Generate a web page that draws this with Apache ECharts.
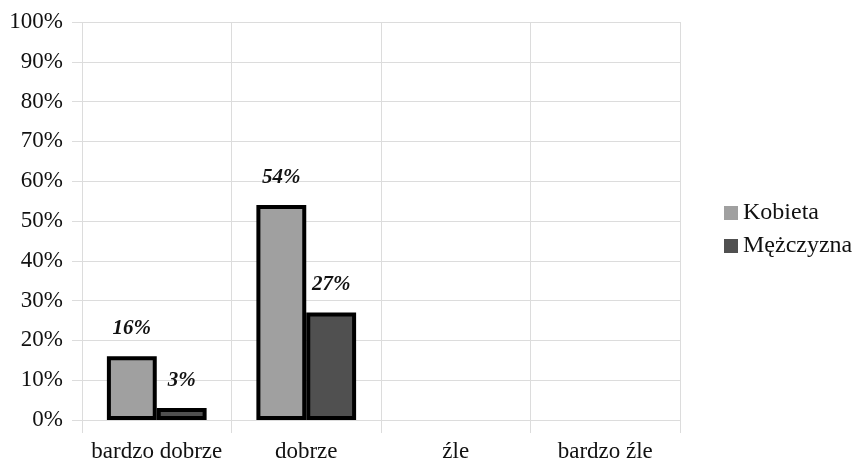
<!DOCTYPE html>
<html><head><meta charset="utf-8">
<script src="https://cdn.jsdelivr.net/npm/echarts@6/dist/echarts.min.js"></script>
<style>html,body{margin:0;padding:0;background:#fff}#c{width:865px;height:461px}</style>
</head><body><div id="c"></div>
<script>
const categories = ['bardzo dobrze', 'dobrze', 'źle', 'bardzo źle'];
const kobieta = [16, 54, null, null];
const mezczyzna = [3, 27, null, null];
const yTicks = [0, 10, 20, 30, 40, 50, 60, 70, 80, 90, 100];

const font = '"Liberation Serif", "DejaVu Serif", serif';
const chart = echarts.init(document.getElementById('c'));
const labelStyle = {
  show: true, position: 'top', distance: 17,
  formatter: p => p.value + '%',
  fontFamily: font, fontSize: 21, fontStyle: 'italic', fontWeight: 'bold', color: '#111'
};
chart.setOption({
  animation: false,
  textStyle: { fontFamily: font },
  grid: { left: 82, right: 185, top: 22, bottom: 41, outerBoundsMode: 'none', containLabel: false },
  legend: {
    orient: 'vertical', left: 719, top: 196, itemWidth: 14, itemHeight: 14, itemGap: 9,
    icon: 'rect',
    itemStyle: { borderWidth: 0 },
    textStyle: { fontFamily: font, fontSize: 24, color: '#111' },
    data: ['Kobieta', 'Mężczyzna']
  },
  xAxis: {
    type: 'category', data: categories, boundaryGap: true,
    axisLine: { show: false },
    axisTick: { show: true, interval: 0, length: 13, lineStyle: { color: '#dcdcdc' } },
    splitLine: { show: true, interval: 0, lineStyle: { color: '#dcdcdc' } },
    axisLabel: { interval: 0, hideOverlap: false, fontFamily: font, fontSize: 23, color: '#111', margin: 20 }
  },
  yAxis: {
    type: 'value', min: 0, max: 100, interval: 10,
    axisLine: { show: false },
    axisTick: { show: true, length: 10, lineStyle: { color: '#dcdcdc' } },
    splitLine: { lineStyle: { color: '#dcdcdc' } },
    axisLabel: { fontFamily: font, fontSize: 23, color: '#111', margin: 19,
      formatter: v => yTicks.includes(v) ? v + '%' : '' }
  },
  series: [
    { name: 'Kobieta', type: 'bar', data: kobieta, barGap: '0%', barCategoryGap: '33.3%',
      itemStyle: { color: '#a0a0a0', borderColor: '#000', borderWidth: 4 }, label: labelStyle },
    { name: 'Mężczyzna', type: 'bar', data: mezczyzna,
      itemStyle: { color: '#505050', borderColor: '#000', borderWidth: 4 }, label: labelStyle }
  ]
});
</script></body></html>
